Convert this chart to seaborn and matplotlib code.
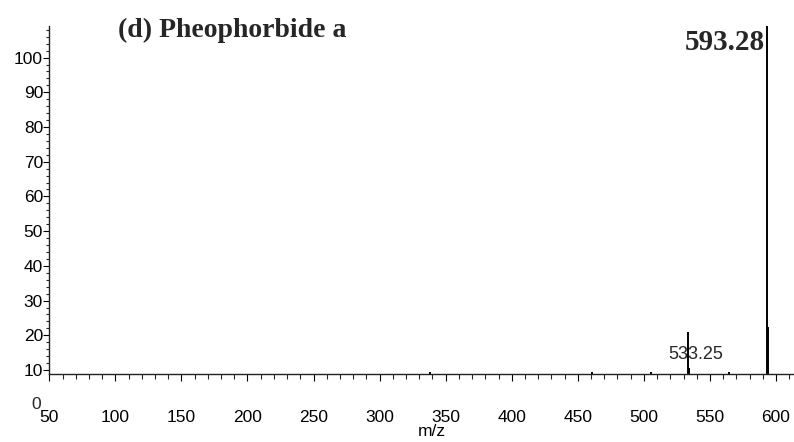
import matplotlib
matplotlib.use("Agg")
import matplotlib.pyplot as plt
import matplotlib.transforms as mtransforms
from matplotlib.ticker import MultipleLocator
import seaborn as sns
import pandas as pd

# peak list (m/z, top of stick on the drawn y scale)
mz = [338.0, 460.5, 505.4, 533.25, 534.25, 564.4, 593.28, 594.28]
intensity = [9.3, 9.3, 9.3, 21.0, 10.5, 9.3, 109.0, 22.5]
labelled_peaks = {533.25: "533.25", 593.28: "593.28"}

y_ticks = [10, 20, 30, 40, 50, 60, 70, 80, 90, 100]
x_ticks = [50, 100, 150, 200, 250, 300, 350, 400, 450, 500, 550, 600]
baseline = 8.85

df = pd.DataFrame({"mz": mz, "intensity": intensity})

sns.set_theme(style="ticks")
plt.rcParams["font.family"] = ["Liberation Sans", "DejaVu Sans"]

fig = plt.figure(figsize=(7.94, 4.42), dpi=100)
ax = fig.add_axes([49.3 / 794, 68 / 442, 744.7 / 794, 348 / 442])

ax.vlines(df["mz"], baseline, df["intensity"], color="black", linewidth=1.4)

ax.set_xlim(50, 613.6)
ax.set_ylim(baseline, 109.1)
ax.set_xticks(x_ticks)
ax.set_yticks(y_ticks)
ax.xaxis.set_minor_locator(MultipleLocator(10))
ax.yaxis.set_minor_locator(MultipleLocator(2))

sns.despine(ax=ax)
for side in ("left", "bottom"):
    ax.spines[side].set_linewidth(1.0)
    ax.spines[side].set_color("#222222")

ax.tick_params(axis="x", which="major", direction="out", length=5, width=0.8,
               pad=21, labelsize=12.5, colors="black")
ax.tick_params(axis="x", which="minor", direction="out", length=3.6, width=0.8)
ax.tick_params(axis="y", which="major", direction="out", length=4.5, width=0.8,
               pad=0, labelsize=12.5, colors="black")
ax.tick_params(axis="y", which="minor", direction="out", length=2.2, width=0.8)

ax.set_xlabel("m/z", fontsize=12.5, color="black")
ax.xaxis.set_label_coords((432 - 49.3) / 744.7, -(431 - 374) / 348)
ax.xaxis.label.set_va("center")

# the stray zero label under the y axis
trans = mtransforms.blended_transform_factory(ax.transAxes, ax.transData)
ax.text(-0.018, 0, "0", transform=trans, ha="center", va="center",
        fontsize=12.5, clip_on=False)

ax.annotate(labelled_peaks[533.25], xy=(533.25, 21.0), xytext=(5.6, -16.2),
            textcoords="offset points", ha="center", va="center", fontsize=13)
ax.annotate(labelled_peaks[593.28], xy=(593.28, 109.1), xytext=(-1.4, -17.3),
            textcoords="offset points", ha="right", va="baseline",
            fontsize=21, fontweight="bold", family="Liberation Serif")

fig.text(118 / 794, (442 - 37) / 442, "(d) Pheophorbide a", ha="left",
         va="baseline", fontsize=20, fontweight="bold", family="Liberation Serif")

fig.savefig("out.png", dpi=100)
